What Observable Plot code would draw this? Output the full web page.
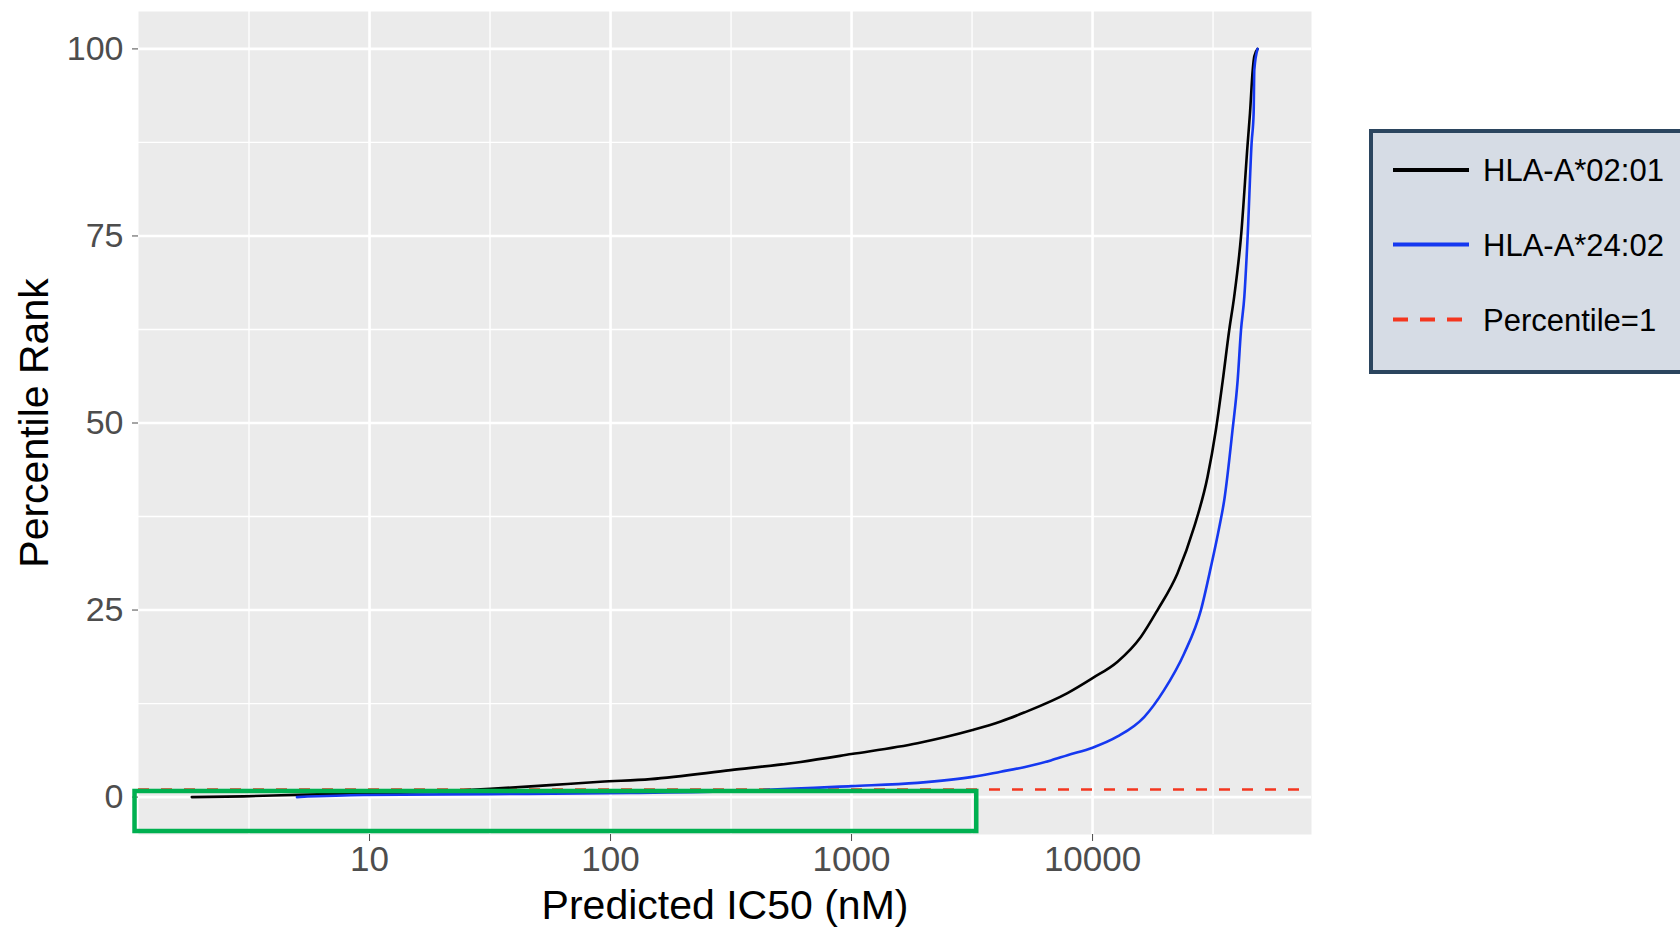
<!DOCTYPE html>
<html>
<head>
<meta charset="utf-8">
<script src="https://cdn.jsdelivr.net/npm/d3@7"></script>
<script src="https://cdn.jsdelivr.net/npm/@observablehq/plot@0.6"></script>
<style>
  html, body { margin: 0; padding: 0; background: #ffffff; }
  #wrap { position: relative; width: 1680px; height: 927px; overflow: hidden; font-family: "Liberation Sans", Arial, sans-serif; }
  #legend { position: absolute; left: 0; top: 0; pointer-events: none; }
</style>
</head>
<body>
<div id="wrap"></div>
<script>
// ---------- data ----------
const seriesNames = ["HLA-A*02:01", "HLA-A*24:02"];
const seriesColors = ["#000000", "#1538f0"];

const a0201IC50 = [1.83, 3, 5, 9.4, 17.9, 31.7, 45, 56, 90.8, 146.5, 315, 615, 998, 1877, 3177, 4160, 5200, 7870, 10000, 12700, 15860, 18600, 22500, 26400, 30000, 32500, 34700, 36900, 38700, 41300, 44030, 45000, 46200, 46900, 48400];
const a0201Rank = [0, 0.1, 0.3, 0.5, 0.7, 1.1, 1.4, 1.6, 2.05, 2.4, 3.6, 4.7, 5.75, 7.2, 8.96, 10.1, 11.3, 13.9, 15.9, 18.1, 21.4, 25, 29.9, 36.1, 42.8, 49.1, 55.7, 62.4, 66.9, 74.9, 87.4, 91.4, 97.2, 99.0, 100];

const a2402IC50 = [5.0, 9.4, 31.7, 121, 315, 998, 1877, 3177, 4160, 5200, 6710, 7870, 10000, 12700, 16370, 19800, 24000, 28160, 31000, 33570, 35200, 38100, 40000, 41300, 42640, 44000, 45700, 46600, 46900, 48400];
const a2402Rank = [0, 0.27, 0.4, 0.55, 0.8, 1.47, 1.9, 2.7, 3.4, 4.0, 4.9, 5.6, 6.6, 8.1, 10.7, 14.3, 19.2, 25, 30.8, 36.1, 39.7, 49.1, 55.7, 62.4, 66.9, 74.9, 87.4, 91.4, 97.2, 100];

const thresholdRank = [1];
const thresholdLabel = "Percentile=1";

const xBreaks = [10, 100, 1000, 10000];
const xTickLabels = ["10", "100", "1000", "10000"];
const xMinorBreaks = [3.162, 31.62, 316.2, 3162, 31623];
const yBreaks = [0, 25, 50, 75, 100];
const yTickLabels = ["0", "25", "50", "75", "100"];
const yMinorBreaks = [12.5, 37.5, 62.5, 87.5];

const xTitle = "Predicted IC50 (nM)";
const yTitle = "Percentile Rank";

// highlight box (data space)
const highlightX = [1.064, 3308];
const highlightY = [-4.6, 0.75];

// ---------- build ----------
const rows = [
  ...a0201IC50.map((v, i) => ({series: seriesNames[0], ic50: v, rank: a0201Rank[i]})),
  ...a2402IC50.map((v, i) => ({series: seriesNames[1], ic50: v, rank: a2402Rank[i]}))
];
const boxRows = [{x1: highlightX[0], x2: highlightX[1], y1: highlightY[0], y2: highlightY[1]}];

const chart = Plot.plot({
  width: 1680,
  height: 927,
  marginLeft: 138,
  marginRight: 369,
  marginTop: 11,
  marginBottom: 93,
  style: {fontFamily: "'Liberation Sans', Arial, sans-serif", background: "transparent", overflow: "visible"},
  x: {type: "log", domain: [1.1, 81000]},
  y: {domain: [-5, 105]},
  color: {domain: seriesNames, range: seriesColors},
  marks: [
    Plot.frame({fill: "#ebebeb", stroke: null}),
    Plot.ruleX(xMinorBreaks, {stroke: "#ffffff", strokeWidth: 1.3}),
    Plot.ruleY(yMinorBreaks, {stroke: "#ffffff", strokeWidth: 1.3}),
    Plot.ruleX(xBreaks, {stroke: "#ffffff", strokeWidth: 2.6}),
    Plot.ruleY(yBreaks, {stroke: "#ffffff", strokeWidth: 2.6}),
    Plot.axisX({ticks: xBreaks, tickFormat: d => xTickLabels[xBreaks.indexOf(d)], tickSize: 7, tickPadding: 5, fontSize: 35, color: "#4d4d4d", label: null}),
    Plot.axisY({ticks: yBreaks, tickFormat: d => yTickLabels[yBreaks.indexOf(d)], tickSize: 6, tickPadding: 9, fontSize: 34, color: "#4d4d4d", label: null}),
    Plot.ruleY(thresholdRank, {stroke: "#f4361f", strokeWidth: 2.5, strokeDasharray: "11,12"}),
    Plot.line(rows, {x: "ic50", y: "rank", z: "series", stroke: "series", strokeWidth: 2.6, curve: "monotone-x"}),
    Plot.rect(boxRows, {x1: "x1", x2: "x2", y1: "y1", y2: "y2", fill: "none", stroke: "#00b050", strokeWidth: 4.5}),
    Plot.text([xTitle], {text: d => d, frameAnchor: "bottom", dy: 71, fontSize: 41, fill: "#000000", textAnchor: "middle", lineAnchor: "middle"}),
    Plot.text([yTitle], {text: d => d, frameAnchor: "left", dx: -104, rotate: -90, fontSize: 41, fill: "#000000", textAnchor: "middle", lineAnchor: "middle"})
  ]
});
document.getElementById("wrap").appendChild(chart);

// ---------- legend ----------
const legendLabels = [...seriesNames, thresholdLabel];
const legendColors = [...seriesColors, "#f4361f"];
const legendDash = [null, null, "15,12"];
const ns = "http://www.w3.org/2000/svg";
const lg = document.createElementNS(ns, "svg");
lg.setAttribute("id", "legend");
lg.setAttribute("width", 1680);
lg.setAttribute("height", 927);
const box = document.createElementNS(ns, "rect");
box.setAttribute("x", 1371); box.setAttribute("y", 131);
box.setAttribute("width", 330); box.setAttribute("height", 241);
box.setAttribute("fill", "#d6dce5"); box.setAttribute("stroke", "#2b455f"); box.setAttribute("stroke-width", 4);
lg.appendChild(box);
const rowY = [170, 244.5, 319.5];
legendLabels.forEach((lab, i) => {
  const ln = document.createElementNS(ns, "line");
  ln.setAttribute("x1", 1393); ln.setAttribute("x2", i === 2 ? 1466 : 1469);
  ln.setAttribute("y1", rowY[i]); ln.setAttribute("y2", rowY[i]);
  ln.setAttribute("stroke", legendColors[i]); ln.setAttribute("stroke-width", 4);
  if (legendDash[i]) ln.setAttribute("stroke-dasharray", legendDash[i]);
  lg.appendChild(ln);
  const t = document.createElementNS(ns, "text");
  t.setAttribute("x", 1483); t.setAttribute("y", rowY[i]);
  t.setAttribute("dy", "0.36em");
  t.setAttribute("font-size", 31);
  t.setAttribute("font-family", "'Liberation Sans', Arial, sans-serif");
  t.setAttribute("fill", "#000000");
  t.textContent = lab;
  lg.appendChild(t);
});
document.getElementById("wrap").appendChild(lg);
</script>
</body>
</html>
